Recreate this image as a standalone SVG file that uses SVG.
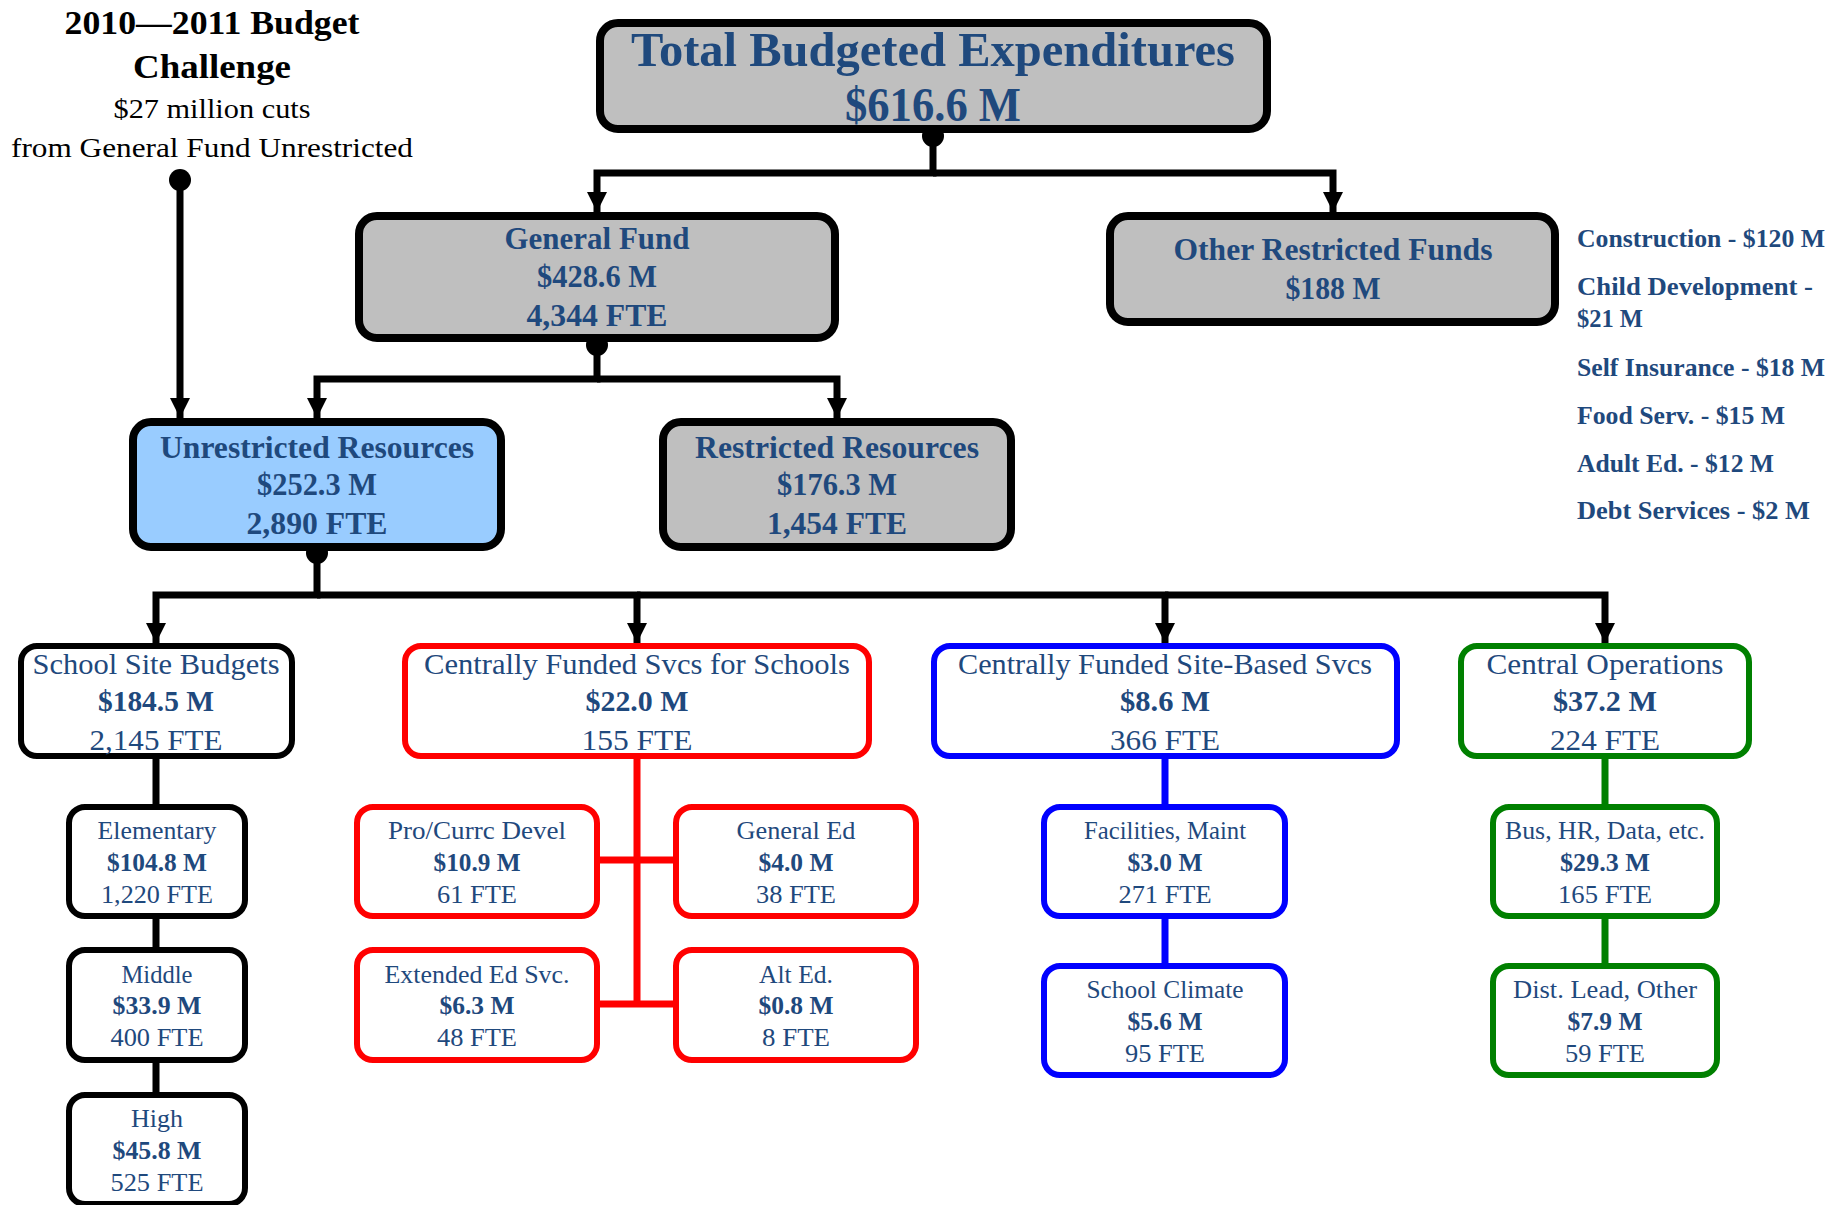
<svg xmlns="http://www.w3.org/2000/svg" width="1845" height="1205" viewBox="0 0 1845 1205">
<style>
text{font-family:"Liberation Serif","Times New Roman",serif;fill:#1f497d;text-anchor:middle}
.t{fill:#000}
.b{font-weight:bold}
.big{font-size:48px;font-weight:bold}
.g{font-size:31px;font-weight:bold}
.l3{font-size:30px}
.l4{font-size:25px}
.lst{font-size:25px;font-weight:bold;text-anchor:start}
.gray{fill:#bfbfbf;stroke:#000;stroke-width:8}
.blu{fill:#99ccff;stroke:#000;stroke-width:8}
.k{fill:#fff;stroke:#000;stroke-width:6}
.r{fill:#fff;stroke:#ff0000;stroke-width:6}
.bl{fill:#fff;stroke:#0000ff;stroke-width:6}
.gr{fill:#fff;stroke:#008000;stroke-width:6}
.c{fill:none;stroke:#000;stroke-width:7}
.cr{fill:none;stroke:#ff0000;stroke-width:7}
.cb{fill:none;stroke:#0000ff;stroke-width:7}
.cg{fill:none;stroke:#008000;stroke-width:7}
</style>
<defs>
<marker id="arr" markerUnits="userSpaceOnUse" markerWidth="20" markerHeight="20" refX="20" refY="10" orient="auto">
<path d="M0,0 L20,10 L0,20 z" fill="#000"/>
</marker>
</defs>

<g id="title">
<text class="t b" x="212" y="34" font-size="33" textLength="295" lengthAdjust="spacingAndGlyphs">2010—2011 Budget</text>
<text class="t b" x="212" y="78" font-size="33" textLength="158" lengthAdjust="spacingAndGlyphs">Challenge</text>
<text class="t" x="212" y="118" font-size="28" textLength="197" lengthAdjust="spacingAndGlyphs">$27 million cuts</text>
<text class="t" x="212" y="157" font-size="28" textLength="402" lengthAdjust="spacingAndGlyphs">from General Fund Unrestricted</text>
</g>

<g id="connectors">
<path class="c" d="M933,136 V173 H597 V212" marker-end="url(#arr)"/>
<path class="c" d="M933,173 H1333 V212" marker-end="url(#arr)"/>
<path class="c" d="M597,345 V379 H317 V418" marker-end="url(#arr)"/>
<path class="c" d="M597,379 H837 V418" marker-end="url(#arr)"/>
<path class="c" d="M180,180 V418" marker-end="url(#arr)"/>
<path class="c" d="M317,553 V595 H156 V643" marker-end="url(#arr)"/>
<path class="c" d="M317,595 H637 V643" marker-end="url(#arr)"/>
<path class="c" d="M637,595 H1165 V643" marker-end="url(#arr)"/>
<path class="c" d="M1165,595 H1605 V643" marker-end="url(#arr)"/>
<circle cx="933" cy="136" r="11" fill="#000"/>
<circle cx="597" cy="345" r="11" fill="#000"/>
<circle cx="180" cy="180" r="11" fill="#000"/>
<circle cx="317" cy="553" r="11" fill="#000"/>
<path class="c" d="M156,756 V807 M156,916 V950 M156,1060 V1095"/>
<path class="cr" d="M637,756 V1004 M600,860 H673 M600,1004 H673"/>
<path class="cb" d="M1165,756 V807 M1165,916 V966"/>
<path class="cg" d="M1605,756 V807 M1605,916 V966"/>
</g>

<g id="total">
<rect class="gray" x="600" y="23" width="667" height="106" rx="18"/>
<text class="big" x="933" y="66" textLength="604" lengthAdjust="spacingAndGlyphs">Total Budgeted Expenditures</text>
<text class="big" x="933" y="121" textLength="176" lengthAdjust="spacingAndGlyphs">$616.6 M</text>
</g>

<g id="general-fund">
<rect class="gray" x="359" y="216" width="476" height="122" rx="18"/>
<text class="g" x="597" y="249" textLength="185" lengthAdjust="spacingAndGlyphs">General Fund</text>
<text class="g" x="597" y="287" textLength="120" lengthAdjust="spacingAndGlyphs">$428.6 M</text>
<text class="g" x="597" y="326" textLength="141" lengthAdjust="spacingAndGlyphs">4,344 FTE</text>
</g>

<g id="other-restricted">
<rect class="gray" x="1110" y="216" width="445" height="106" rx="18"/>
<text class="g" x="1333" y="260" textLength="319" lengthAdjust="spacingAndGlyphs">Other Restricted Funds</text>
<text class="g" x="1333" y="299" textLength="95" lengthAdjust="spacingAndGlyphs">$188 M</text>
</g>

<g id="other-list">
<text class="lst" x="1577" y="247" textLength="248" lengthAdjust="spacingAndGlyphs">Construction - $120 M</text>
<text class="lst" x="1577" y="295" textLength="236" lengthAdjust="spacingAndGlyphs">Child Development -</text>
<text class="lst" x="1577" y="327" textLength="66" lengthAdjust="spacingAndGlyphs">$21 M</text>
<text class="lst" x="1577" y="376" textLength="248" lengthAdjust="spacingAndGlyphs">Self Insurance - $18 M</text>
<text class="lst" x="1577" y="424" textLength="208" lengthAdjust="spacingAndGlyphs">Food Serv. - $15 M</text>
<text class="lst" x="1577" y="472" textLength="197" lengthAdjust="spacingAndGlyphs">Adult Ed. - $12 M</text>
<text class="lst" x="1577" y="519" textLength="233" lengthAdjust="spacingAndGlyphs">Debt Services - $2 M</text>
</g>

<g id="unrestricted">
<rect class="blu" x="133" y="422" width="368" height="125" rx="18"/>
<text class="g" x="317" y="458" textLength="314" lengthAdjust="spacingAndGlyphs">Unrestricted Resources</text>
<text class="g" x="317" y="495" textLength="120" lengthAdjust="spacingAndGlyphs">$252.3 M</text>
<text class="g" x="317" y="534" textLength="141" lengthAdjust="spacingAndGlyphs">2,890 FTE</text>
</g>

<g id="restricted">
<rect class="gray" x="663" y="422" width="348" height="125" rx="18"/>
<text class="g" x="837" y="458" textLength="284" lengthAdjust="spacingAndGlyphs">Restricted Resources</text>
<text class="g" x="837" y="495" textLength="120" lengthAdjust="spacingAndGlyphs">$176.3 M</text>
<text class="g" x="837" y="534" textLength="140" lengthAdjust="spacingAndGlyphs">1,454 FTE</text>
</g>

<g id="school-site">
<rect class="k" x="21" y="646" width="271" height="110" rx="16"/>
<text class="l3" x="156" y="674" textLength="247" lengthAdjust="spacingAndGlyphs">School Site Budgets</text>
<text class="l3 b" x="156" y="711" textLength="116" lengthAdjust="spacingAndGlyphs">$184.5 M</text>
<text class="l3" x="156" y="750" textLength="133" lengthAdjust="spacingAndGlyphs">2,145 FTE</text>
</g>

<g id="cf-schools">
<rect class="r" x="405" y="646" width="464" height="110" rx="16"/>
<text class="l3" x="637" y="674" textLength="426" lengthAdjust="spacingAndGlyphs">Centrally Funded Svcs for Schools</text>
<text class="l3 b" x="637" y="711" textLength="103" lengthAdjust="spacingAndGlyphs">$22.0 M</text>
<text class="l3" x="637" y="750" textLength="111" lengthAdjust="spacingAndGlyphs">155 FTE</text>
</g>

<g id="cf-site">
<rect class="bl" x="934" y="646" width="463" height="110" rx="16"/>
<text class="l3" x="1165" y="674" textLength="414" lengthAdjust="spacingAndGlyphs">Centrally Funded Site-Based Svcs</text>
<text class="l3 b" x="1165" y="711" textLength="90" lengthAdjust="spacingAndGlyphs">$8.6 M</text>
<text class="l3" x="1165" y="750" textLength="110" lengthAdjust="spacingAndGlyphs">366 FTE</text>
</g>

<g id="central-ops">
<rect class="gr" x="1461" y="646" width="288" height="110" rx="16"/>
<text class="l3" x="1605" y="674" textLength="237" lengthAdjust="spacingAndGlyphs">Central Operations</text>
<text class="l3 b" x="1605" y="711" textLength="104" lengthAdjust="spacingAndGlyphs">$37.2 M</text>
<text class="l3" x="1605" y="750" textLength="110" lengthAdjust="spacingAndGlyphs">224 FTE</text>
</g>

<g id="elementary">
<rect class="k" x="69" y="807" width="176" height="109" rx="16"/>
<text class="l4" x="157" y="839" textLength="119" lengthAdjust="spacingAndGlyphs">Elementary</text>
<text class="l4 b" x="157" y="871" textLength="100" lengthAdjust="spacingAndGlyphs">$104.8 M</text>
<text class="l4" x="157" y="903" textLength="112" lengthAdjust="spacingAndGlyphs">1,220 FTE</text>
</g>

<g id="middle">
<rect class="k" x="69" y="950" width="176" height="110" rx="16"/>
<text class="l4" x="157" y="983" textLength="71" lengthAdjust="spacingAndGlyphs">Middle</text>
<text class="l4 b" x="157" y="1014" textLength="89" lengthAdjust="spacingAndGlyphs">$33.9 M</text>
<text class="l4" x="157" y="1046" textLength="93" lengthAdjust="spacingAndGlyphs">400 FTE</text>
</g>

<g id="high">
<rect class="k" x="69" y="1095" width="176" height="109" rx="16"/>
<text class="l4" x="157" y="1127" textLength="52" lengthAdjust="spacingAndGlyphs">High</text>
<text class="l4 b" x="157" y="1159" textLength="89" lengthAdjust="spacingAndGlyphs">$45.8 M</text>
<text class="l4" x="157" y="1191" textLength="93" lengthAdjust="spacingAndGlyphs">525 FTE</text>
</g>

<g id="pro-currc">
<rect class="r" x="357" y="807" width="240" height="109" rx="16"/>
<text class="l4" x="477" y="839" textLength="178" lengthAdjust="spacingAndGlyphs">Pro/Currc Devel</text>
<text class="l4 b" x="477" y="871" textLength="87" lengthAdjust="spacingAndGlyphs">$10.9 M</text>
<text class="l4" x="477" y="903" textLength="80" lengthAdjust="spacingAndGlyphs">61 FTE</text>
</g>

<g id="general-ed">
<rect class="r" x="676" y="807" width="240" height="109" rx="16"/>
<text class="l4" x="796" y="839" textLength="119" lengthAdjust="spacingAndGlyphs">General Ed</text>
<text class="l4 b" x="796" y="871" textLength="75" lengthAdjust="spacingAndGlyphs">$4.0 M</text>
<text class="l4" x="796" y="903" textLength="80" lengthAdjust="spacingAndGlyphs">38 FTE</text>
</g>

<g id="extended-ed">
<rect class="r" x="357" y="950" width="240" height="110" rx="16"/>
<text class="l4" x="477" y="983" textLength="185" lengthAdjust="spacingAndGlyphs">Extended Ed Svc.</text>
<text class="l4 b" x="477" y="1014" textLength="75" lengthAdjust="spacingAndGlyphs">$6.3 M</text>
<text class="l4" x="477" y="1046" textLength="80" lengthAdjust="spacingAndGlyphs">48 FTE</text>
</g>

<g id="alt-ed">
<rect class="r" x="676" y="950" width="240" height="110" rx="16"/>
<text class="l4" x="796" y="983" textLength="74" lengthAdjust="spacingAndGlyphs">Alt Ed.</text>
<text class="l4 b" x="796" y="1014" textLength="75" lengthAdjust="spacingAndGlyphs">$0.8 M</text>
<text class="l4" x="796" y="1046" textLength="68" lengthAdjust="spacingAndGlyphs">8 FTE</text>
</g>

<g id="facilities">
<rect class="bl" x="1044" y="807" width="241" height="109" rx="16"/>
<text class="l4" x="1165" y="839" textLength="162" lengthAdjust="spacingAndGlyphs">Facilities, Maint</text>
<text class="l4 b" x="1165" y="871" textLength="75" lengthAdjust="spacingAndGlyphs">$3.0 M</text>
<text class="l4" x="1165" y="903" textLength="93" lengthAdjust="spacingAndGlyphs">271 FTE</text>
</g>

<g id="school-climate">
<rect class="bl" x="1044" y="966" width="241" height="109" rx="16"/>
<text class="l4" x="1165" y="998" textLength="157" lengthAdjust="spacingAndGlyphs">School Climate</text>
<text class="l4 b" x="1165" y="1030" textLength="75" lengthAdjust="spacingAndGlyphs">$5.6 M</text>
<text class="l4" x="1165" y="1062" textLength="80" lengthAdjust="spacingAndGlyphs">95 FTE</text>
</g>

<g id="bus-hr">
<rect class="gr" x="1493" y="807" width="224" height="109" rx="16"/>
<text class="l4" x="1605" y="839" textLength="200" lengthAdjust="spacingAndGlyphs">Bus, HR, Data, etc.</text>
<text class="l4 b" x="1605" y="871" textLength="90" lengthAdjust="spacingAndGlyphs">$29.3 M</text>
<text class="l4" x="1605" y="903" textLength="94" lengthAdjust="spacingAndGlyphs">165 FTE</text>
</g>

<g id="dist-lead">
<rect class="gr" x="1493" y="966" width="224" height="109" rx="16"/>
<text class="l4" x="1605" y="998" textLength="184" lengthAdjust="spacingAndGlyphs">Dist. Lead, Other</text>
<text class="l4 b" x="1605" y="1030" textLength="75" lengthAdjust="spacingAndGlyphs">$7.9 M</text>
<text class="l4" x="1605" y="1062" textLength="80" lengthAdjust="spacingAndGlyphs">59 FTE</text>
</g>
</svg>
